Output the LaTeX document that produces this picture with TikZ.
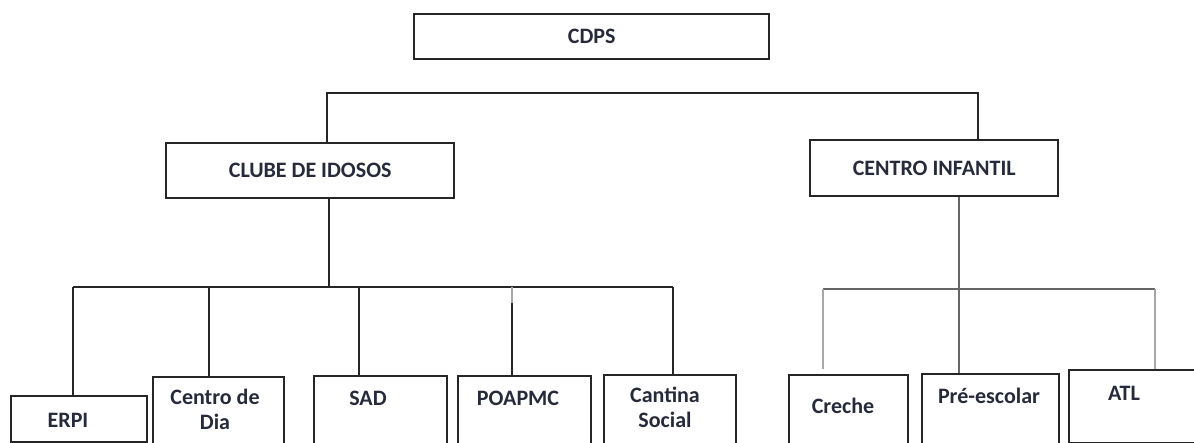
\documentclass[tikz,border=0pt]{standalone}
\usepackage{fontspec}
\setmainfont{Carlito}
\definecolor{ink}{HTML}{262A3A}
\begin{document}
\begin{tikzpicture}[x=0.5pt, y=-0.5pt,
  box/.style 2 args={draw=black!85, line width=1.2pt, minimum width=#1*0.5pt,
    minimum height=#2*0.5pt, inner sep=0pt, anchor=north west, text=ink,
    font=\bfseries\fontsize{11}{12.5}\selectfont},
  lbl/.style={font=\bfseries\fontsize{11}{12.5}\selectfont, align=center,
    text=ink, inner sep=0pt},
  link/.style={line width=1pt, draw=black!85},
  mid link/.style={line width=1pt, draw=black!60},
  grey link/.style={line width=1pt, draw=black!35}]

\useasboundingbox (0,0) rectangle (1194,443);
\clip (0,0) rectangle (1194,443);

% Boxes
\node[box={355}{45}] (cdps) at (413,13) {CDPS};
\node[box={288}{55}] (clube) at (165,142) {CLUBE DE IDOSOS};
\node[box={248}{56}] (infantil) at (809,139) {CENTRO INFANTIL};
\node[box={136}{46}] (erpi) at (10,395) {};
\node[box={131}{90}] (dia) at (152,376) {};
\node[box={133}{90}] (sad) at (313,375) {};
\node[box={133}{90}] (poa) at (457,375) {};
\node[box={132}{90}] (cant) at (603,374) {};
\node[box={119}{90}] (creche) at (788,374) {};
\node[box={137}{90}] (pre) at (921,373) {};
\node[box={140}{73}] (atl) at (1068,369) {};

% Labels
\node[lbl] (erpi-l) at (68,420) {ERPI};
\node[lbl] (dia-l) at (215,409.5) {Centro de\\Dia};
\node[lbl] (sad-l) at (368,398) {SAD};
\node[lbl] (poa-l) at (518,398) {POAPMC};
\node[lbl] (cant-l) at (665,407.5) {Cantina\\Social};
\node[lbl] (creche-l) at (843,406) {Creche};
\node[lbl] (pre-l) at (989,396) {Pré-escolar};
\node[lbl] (atl-l) at (1124,393) {ATL};

% Top level
\coordinate (t1) at (327,93);
\coordinate (t2) at (978,93);
\draw[link] (clube.north -| t1) -- (t1) -- (t2) -- (infantil.north -| t2);

% Clube de idosos
\coordinate (c0) at (329,287);
\coordinate (c1) at (73,287);
\coordinate (c2) at (673,287);
\draw[link] (clube.south -| c0) -- (c0);
\draw[link] (c1) -- (c2);
\foreach \n/\x in {erpi/73, dia/209, sad/359, poa/512, cant/673}{
  \coordinate (\n-t) at (\x,287);
  \draw[link] (\n-t) -- (\n.north -| \n-t);
}
\draw[grey link] (poa-t) -- ++(0,16);

% Centro infantil
\coordinate (i0) at (959,289);
\coordinate (i1) at (823,289);
\coordinate (i2) at (1155,289);
\draw[mid link] (infantil.south -| i0) -- (pre.north -| i0);
\draw[mid link] (i1) -- (i2);
\draw[grey link, shorten >=2.5pt] (i1) -- (creche.north -| i1);
\draw[grey link] (i2) -- (atl.north -| i2);

\end{tikzpicture}
\end{document}
